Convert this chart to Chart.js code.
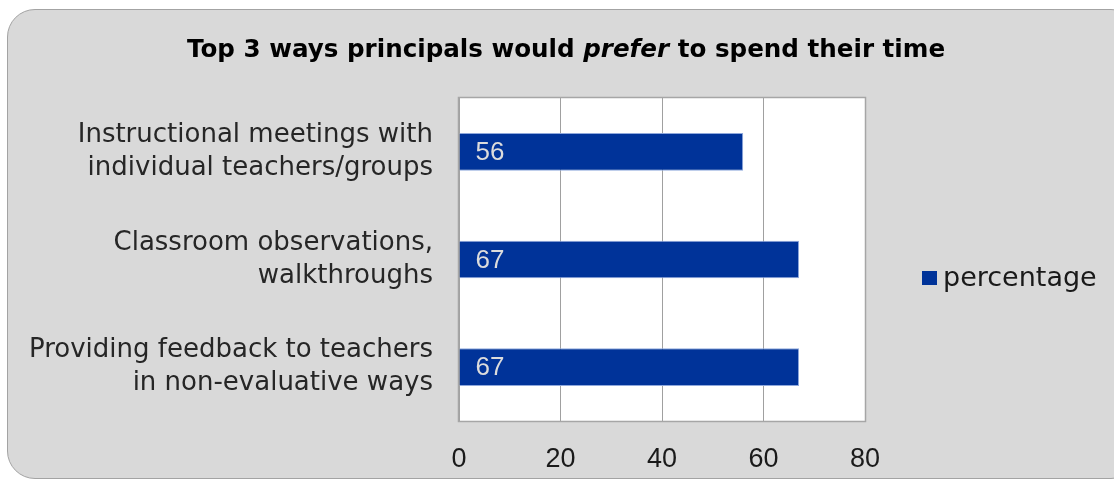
<!DOCTYPE html>
<html>
<head>
<meta charset="utf-8">
<script src="https://cdn.jsdelivr.net/npm/chart.js@4.4.0/dist/chart.umd.min.js"></script>
<style>
  html, body { margin: 0; padding: 0; background: #fff; overflow: hidden; }
  .frame {
    position: absolute; left: 7px; top: 9px; width: 1130px; height: 468px;
    background: #d9d9d9; border: 1.5px solid #a3a3a3; border-radius: 28px;
  }
  .wrap { position: absolute; left: 0; top: 0; width: 1114px; height: 480px; }
</style>
</head>
<body>
<div class="frame"></div>
<div class="wrap"><canvas id="chart" width="1114" height="480"></canvas></div>
<script>
const categories = [
  ["Instructional meetings with", "individual teachers/groups"],
  ["Classroom observations,", "walkthroughs"],
  ["Providing feedback to teachers", "in non-evaluative ways"],
];
const percentages = [56, 67, 67];
const seriesName = "percentage";
const axisMin = 0;
const axisMax = 80;
const axisStep = 20;
// title pieces, the middle word is italic
const titleParts = [
  ["Top 3 ways principals would ", "bold"],
  ["prefer", "italic bold"],
  [" to spend their time", "bold"],
];

const FONT = "'DejaVu Sans', sans-serif";
const NUM_FONT = "'Liberation Sans', Arial, sans-serif";
const BAR_BLUE = "#003399";

Chart.defaults.font.family = FONT;

// white plot area, frame, title, value labels and legend
const decorPlugin = {
  id: "decor",
  beforeDraw(chart) {
    const { ctx, chartArea: a } = chart;
    ctx.save();
    ctx.fillStyle = "#ffffff";
    ctx.fillRect(a.left, a.top, a.right - a.left, a.bottom - a.top);
    ctx.restore();
  },
  afterDatasetsDraw(chart) {
    const { ctx } = chart;
    const meta = chart.getDatasetMeta(0);
    ctx.save();
    ctx.font = "26px " + NUM_FONT;
    ctx.fillStyle = "#dcdcdc";
    ctx.textBaseline = "middle";
    ctx.textAlign = "left";
    meta.data.forEach((bar, i) => {
      ctx.fillText(String(percentages[i]), bar.base + 16, bar.y + 1);
    });
    ctx.restore();
  },
  afterDraw(chart) {
    const { ctx, chartArea: a } = chart;
    ctx.save();

    // plot frame
    ctx.strokeStyle = "#a6a6a6";
    ctx.lineWidth = 1.5;
    ctx.strokeRect(a.left - 0.5, a.top - 0.5, a.right - a.left + 1, a.bottom - a.top + 1);

    // title
    ctx.fillStyle = "#000";
    ctx.textBaseline = "middle";
    ctx.textAlign = "left";
    let total = 0;
    titleParts.forEach(([txt, style]) => {
      ctx.font = style + " 24.6px " + FONT;
      total += ctx.measureText(txt).width;
    });
    let x = 566 - total / 2;
    titleParts.forEach(([txt, style]) => {
      ctx.font = style + " 24.6px " + FONT;
      ctx.fillText(txt, x, 51);
      x += ctx.measureText(txt).width;
    });

    // legend
    ctx.fillStyle = chart.data.datasets[0].backgroundColor;
    ctx.fillRect(922, 271, 15, 14);
    ctx.fillStyle = "#1a1a1a";
    ctx.font = "27px " + FONT;
    ctx.fillText(chart.data.datasets[0].label, 943, 279);

    ctx.restore();
  },
};

new Chart(document.getElementById("chart"), {
  type: "bar",
  data: {
    labels: categories,
    datasets: [
      {
        label: seriesName,
        data: percentages,
        backgroundColor: BAR_BLUE,
        borderColor: "#8fa8dc",
        borderWidth: 1,
        barPercentage: 0.35,
        categoryPercentage: 1,
      },
    ],
  },
  options: {
    indexAxis: "y",
    responsive: false,
    animation: false,
    layout: { padding: { top: 98, left: 0, right: 249, bottom: 0 } },
    plugins: {
      legend: { display: false },
      title: { display: false },
      tooltip: { enabled: false },
    },
    scales: {
      x: {
        min: axisMin,
        max: axisMax,
        ticks: {
          stepSize: axisStep,
          color: "#1a1a1a",
          font: { family: NUM_FONT, size: 27 },
          padding: 22,
        },
        grid: { color: "#a0a0a0", lineWidth: 1, drawTicks: false },
        border: { display: false },
        afterFit(scale) {
          scale.height = 58;
        },
      },
      y: {
        ticks: {
          color: "#262626",
          font: { size: 26, lineHeight: 1.27 },
          padding: 26,
        },
        grid: { display: false, drawTicks: false },
        border: { display: false },
        afterFit(scale) {
          scale.width = 459;
        },
      },
    },
  },
  plugins: [decorPlugin],
});
</script>
</body>
</html>
